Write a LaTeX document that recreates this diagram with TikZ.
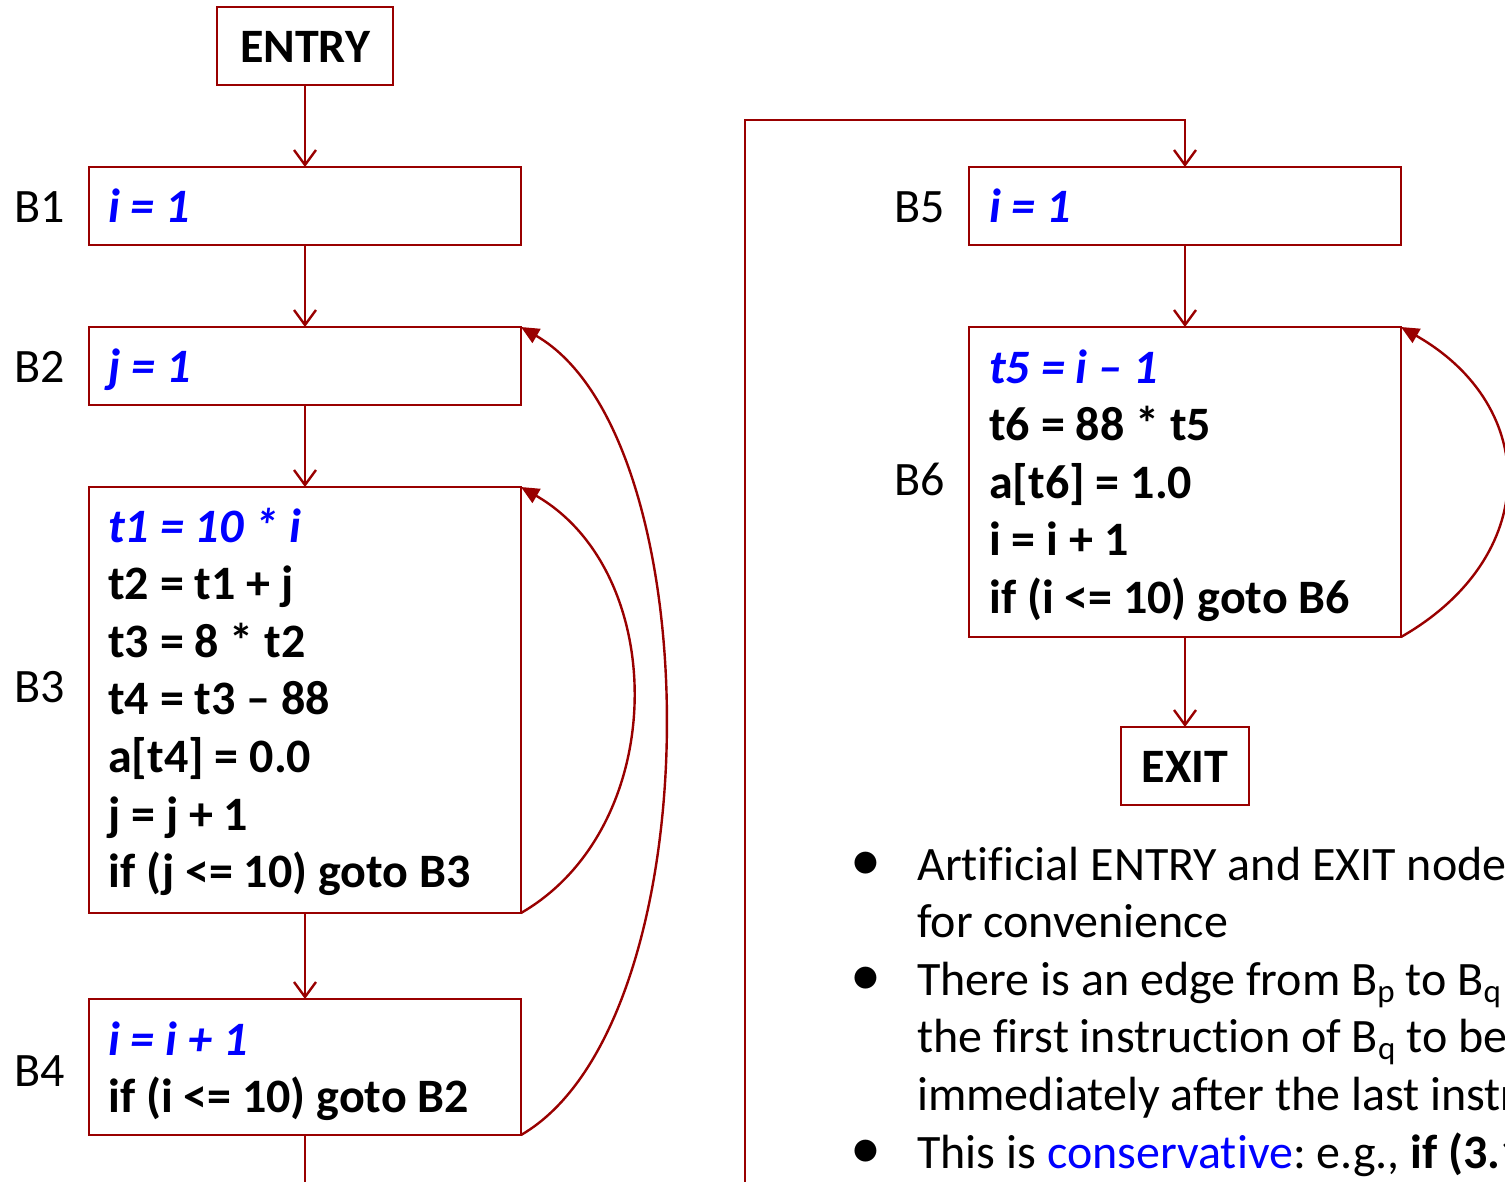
\documentclass[tikz,border=0pt]{standalone}
\usepackage{fontspec}
\setmainfont{Carlito}[Ligatures=NoCommon]
\usetikzlibrary{arrows.meta}
\definecolor{edgered}{RGB}{153,0,0}
\definecolor{hiblue}{RGB}{0,0,255}
% lowered, smaller subscript letter for block names
\newcommand\blksub[1]{\raisebox{-7pt}{\fontsize{33}{33}\selectfont #1}}
\frenchspacing

\begin{document}
\begin{tikzpicture}[x=1pt,y=-1pt,
  blk/.style={draw=edgered, line width=2.4pt, rectangle, inner sep=0pt, outer sep=0pt},
  lbl/.style={font=\fontsize{48}{57.6}\selectfont, anchor=base west, inner sep=0pt},
  code/.style={lbl, font=\fontsize{48}{57.6}\selectfont\bfseries},
  hot/.style={lbl, font=\fontsize{48}{57.6}\selectfont\bfseries\itshape, text=hiblue},
  dot/.style={font=\fontsize{62}{62}\selectfont, anchor=center, inner sep=0pt},
  flow/.style={draw=edgered, line width=2.4pt, -{Straight Barb[length=15pt,width=22pt]}},
  back/.style={draw=edgered, line width=2.4pt, -{Triangle[length=18pt,width=16pt]}},
]
\path[use as bounding box] (0,0) rectangle (1505,1181);
\clip (0,0) rectangle (1505,1181);

% ---- left graph: nested loops ----
\node[blk, minimum width=176pt, minimum height=78pt] (entry) at (305,46) {};
\node[code, anchor=base] (entrytxt) at (305,62) {ENTRY};

\node[blk, minimum width=432pt, minimum height=78pt]  (b1) at (305,206) {};
\node[blk, minimum width=432pt, minimum height=78pt]  (b2) at (305,366) {};
\node[blk, minimum width=432pt, minimum height=426pt] (b3) at (305,700) {};
\node[blk, minimum width=432pt, minimum height=136pt] (b4) at (305,1067) {};

\node[lbl] (l1) at (14,222) {B1};
\node[lbl] (l2) at (14,382) {B2};
\node[lbl] (l3) at (14,702) {B3};
\node[lbl] (l4) at (14,1086) {B4};

\node[hot] (b1a) at (108,222) {i = 1};
\node[hot] (b2a) at (108,382) {j = 1};

\node[hot]  (b3a) at (108,542)   {t1 = 10 * i};
\node[code] (b3b) at (108,599.6) {t2 = t1 + j};
\node[code] (b3c) at (108,657.2) {t3 = 8 * t2};
\node[code] (b3d) at (108,714.8) {t4 = t3 – 88};
\node[code] (b3e) at (108,772.4) {a[t4] = 0.0};
\node[code] (b3f) at (108,830)   {j = j + 1};
\node[code] (b3g) at (108,887.6) {if (j <= 10) goto B3};

\node[hot]  (b4a) at (108,1055)   {i = i + 1};
\node[code] (b4b) at (108,1112.6) {if (i <= 10) goto B2};

\draw[flow] (entry.south) -- (b1.north);
\draw[flow] (b1.south) -- (b2.north);
\draw[flow] (b2.south) -- (b3.north);
\draw[flow] (b3.south) -- (b4.north);
\coordinate (b4out) at (305,1195);
\draw[draw=edgered, line width=2.4pt] (b4.south) -- (b4out);

\draw[back] (b3.south east) .. controls +(149,-86) and +(149,86) .. (b3.north east);
\draw[back] (b4.south east) .. controls +(192,-111) and +(192,111) .. (b2.north east);

% ---- right graph: single loop ----
\node[blk, minimum width=432pt, minimum height=78pt]  (b5) at (1185,206) {};
\node[blk, minimum width=432pt, minimum height=310pt] (b6) at (1185,482) {};
\node[blk, minimum width=128pt, minimum height=78pt]  (exit) at (1185,766) {};
\node[code, anchor=base] (exittxt) at (1185,782) {EXIT};

\node[lbl] (l5) at (894,222) {B5};
\node[lbl] (l6) at (894,495) {B6};

\node[hot] (b5a) at (989,222) {i = 1};

\node[hot]  (b6a) at (989,383)   {t5 = i – 1};
\node[code] (b6b) at (989,440.6) {t6 = 88 * t5};
\node[code] (b6c) at (989,498.2) {a[t6] = 1.0};
\node[code] (b6d) at (989,555.8) {i = i + 1};
\node[code] (b6e) at (989,613.4) {if (i <= 10) goto B6};

\coordinate (loopfoot) at (745,1195);
\coordinate (loopcorner) at (745,120);
\draw[flow] (loopfoot) -- (loopcorner) -| (b5.north);
\draw[flow] (b5.south) -- (b6.north);
\draw[flow] (b6.south) -- (exit.north);
\draw[back] (b6.south east) .. controls +(140,-80) and +(140,80) .. (b6.north east);

% ---- bullet notes ----
\node[dot] (d1) at (866,866) {•};
\node[dot] (d2) at (866,981) {•};
\node[dot] (d3) at (866,1154) {•};
\node[lbl] (n1) at (917,880)    {Artificial ENTRY and EXIT nodes added};
\node[lbl] (n2) at (917,937.6)  {for convenience};
\node[lbl] (n3) at (917,995.2)  {There is an edge from B\blksub{p} to B\blksub{q} if it is possible for};
\node[lbl] (n4) at (917,1052.8) {the first instruction of B\blksub{q} to be executed};
\node[lbl] (n5) at (917,1110.4) {immediately after the last instruction of B\blksub{p}};
\node[lbl] (n6) at (917,1168)   {This is \textcolor{hiblue}{conservative}: e.g., \textbf{if (3.14 > 2.7)}};
\end{tikzpicture}
\end{document}
